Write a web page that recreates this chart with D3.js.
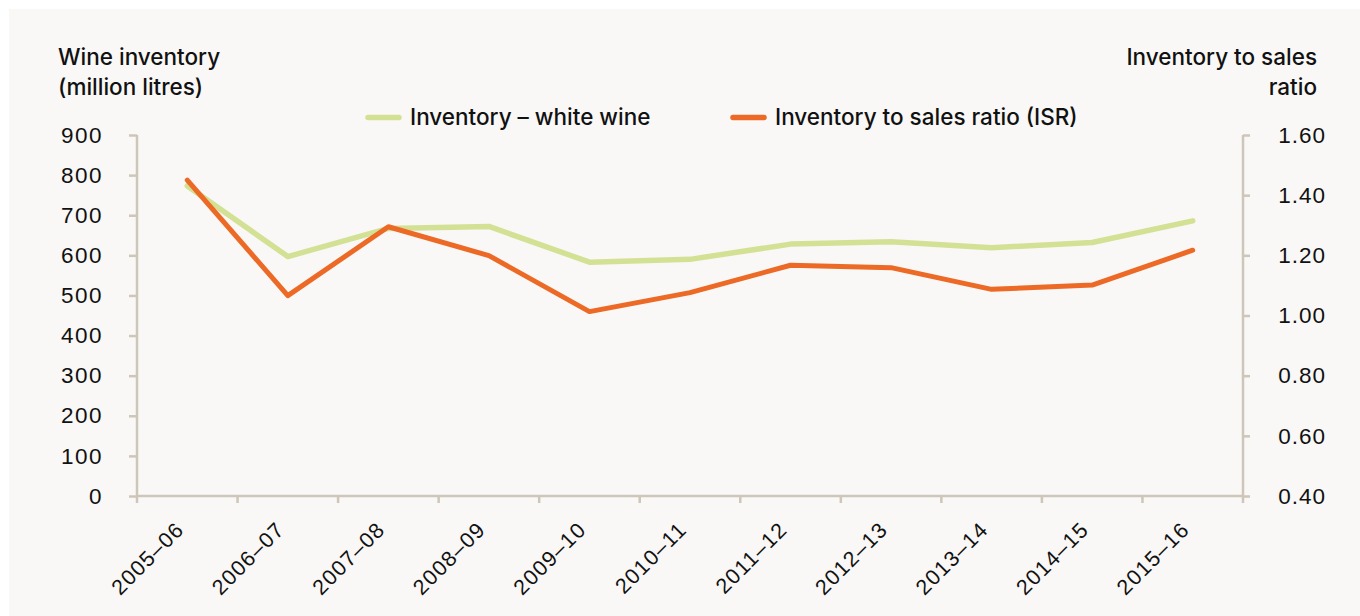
<!DOCTYPE html>
<html><head><meta charset="utf-8">
<script src="https://cdn.jsdelivr.net/npm/d3@7"></script>
<style>
body{margin:0;background:#fff;}
svg{display:block;font-family:Inter,"Noto Sans",sans-serif;}
</style></head><body>
<svg id="c" width="1360" height="616"></svg>
<script>
const categories = ["2005–06","2006–07","2007–08","2008–09","2009–10","2010–11","2011–12","2012–13","2013–14","2014–15","2015–16"];
const inventoryWhite = [773, 597, 667, 672, 583, 590, 628, 634, 619, 632, 686];
const isr = [1.45, 1.066, 1.295, 1.199, 1.013, 1.076, 1.167, 1.159, 1.087, 1.101, 1.217];
const leftTicks = [0,100,200,300,400,500,600,700,800,900];
const rightTicks = [0.40,0.60,0.80,1.00,1.20,1.40,1.60];
const seriesNames = ["Inventory – white wine","Inventory to sales ratio (ISR)"];

const svg = d3.select("#c");
const W=1360,H=616;
const axisColor="#cdc6b9", green="#d3e195", orange="#ec6a25", textColor="#111";
svg.append("rect").attr("x",9).attr("y",9).attr("width",W-9).attr("height",H-9).attr("fill","#f9f8f7");

const x0=137, x1=1243, yTop=135, yBot=496;
const x = d3.scaleBand().domain(categories).range([x0,x1]);
const yL = d3.scaleLinear().domain([0,900]).range([yBot,yTop]);
const yR = d3.scaleLinear().domain([0.4,1.6]).range([yBot,yTop]);
const fs=22.5, tfs=22.5;

// left axis
const gL = svg.append("g").attr("transform",`translate(${x0},0)`)
  .call(d3.axisLeft(yL).tickValues(leftTicks).tickSize(8).tickPadding(26).tickFormat(d3.format("d")));
gL.selectAll(".tick text").attr("letter-spacing",1.5);
// right axis
const gR = svg.append("g").attr("transform",`translate(${x1},0)`)
  .call(d3.axisRight(yR).tickValues(rightTicks).tickSize(7).tickPadding(22).tickFormat(d3.format(".2f")));
gR.selectAll(".tick text").attr("text-anchor","end").attr("dx",54).attr("letter-spacing",1);
// bottom axis
const gB = svg.append("g").attr("transform",`translate(0,${yBot})`)
  .call(d3.axisBottom(x).tickSize(0).tickFormat(d=>d));
gB.selectAll(".tick line").remove();
gB.selectAll(".tick text").attr("text-anchor","end")
  .attr("transform","translate(-2,35) rotate(-45)").attr("dy",0).attr("y",0).attr("x",0)
  .attr("letter-spacing",1.2);
// bottom tick marks at band boundaries
svg.append("g").selectAll("line").data(categories.concat(["__end"])).join("line")
  .attr("x1",(d,i)=>x0+i*x.step()).attr("x2",(d,i)=>x0+i*x.step())
  .attr("y1",yBot).attr("y2",yBot+7).attr("stroke",axisColor).attr("stroke-width",2.5);

[gL,gR,gB].forEach(g=>{
  g.selectAll(".domain").attr("stroke",axisColor).attr("stroke-width",2.5);
  g.selectAll(".tick line").attr("stroke",axisColor).attr("stroke-width",2.5);
  g.selectAll(".tick text").attr("fill",textColor).attr("font-size",tfs).attr("font-weight",500);
});
gB.selectAll(".tick text").attr("font-size",21.5);
gL.select(".domain").attr("d",`M0,${yTop}V${yBot}`);
gR.select(".domain").attr("d",`M0,${yTop}V${yBot}`);
gB.select(".domain").attr("d",`M${x0},0H${x1}`);

const cx = d=>x(d)+x.bandwidth()/2;
const lineL = d3.line().x((d,i)=>cx(categories[i])).y(d=>yL(d));
const lineR = d3.line().x((d,i)=>cx(categories[i])).y(d=>yR(d));
svg.append("path").attr("d",lineL(inventoryWhite)).attr("fill","none").attr("stroke",green).attr("stroke-width",5.5).attr("stroke-linecap","round").attr("stroke-linejoin","round");
svg.append("path").attr("d",lineR(isr)).attr("fill","none").attr("stroke",orange).attr("stroke-width",5).attr("stroke-linecap","round").attr("stroke-linejoin","round");

// titles
const t = (txt,xx,yy,anchor)=>svg.append("text").attr("x",xx).attr("y",yy).attr("text-anchor",anchor)
  .attr("font-size",fs).attr("font-weight",500).attr("fill",textColor).text(txt);
t("Wine inventory",58,65,"start");
t("(million litres)",58,95,"start");
t("Inventory to sales",1317,65,"end");
t("ratio",1317,95,"end");

// legend
const leg=[{n:seriesNames[0],c:green,x:368},{n:seriesNames[1],c:orange,x:733}];
leg.forEach(l=>{
  svg.append("line").attr("x1",l.x).attr("x2",l.x+31).attr("y1",117.5).attr("y2",117.5).attr("stroke",l.c).attr("stroke-width",5.5).attr("stroke-linecap","round");
  svg.append("text").attr("x",l.x+42).attr("y",125).attr("font-size",fs).attr("font-weight",500).attr("fill",textColor).text(l.n);
});
</script></body></html>
